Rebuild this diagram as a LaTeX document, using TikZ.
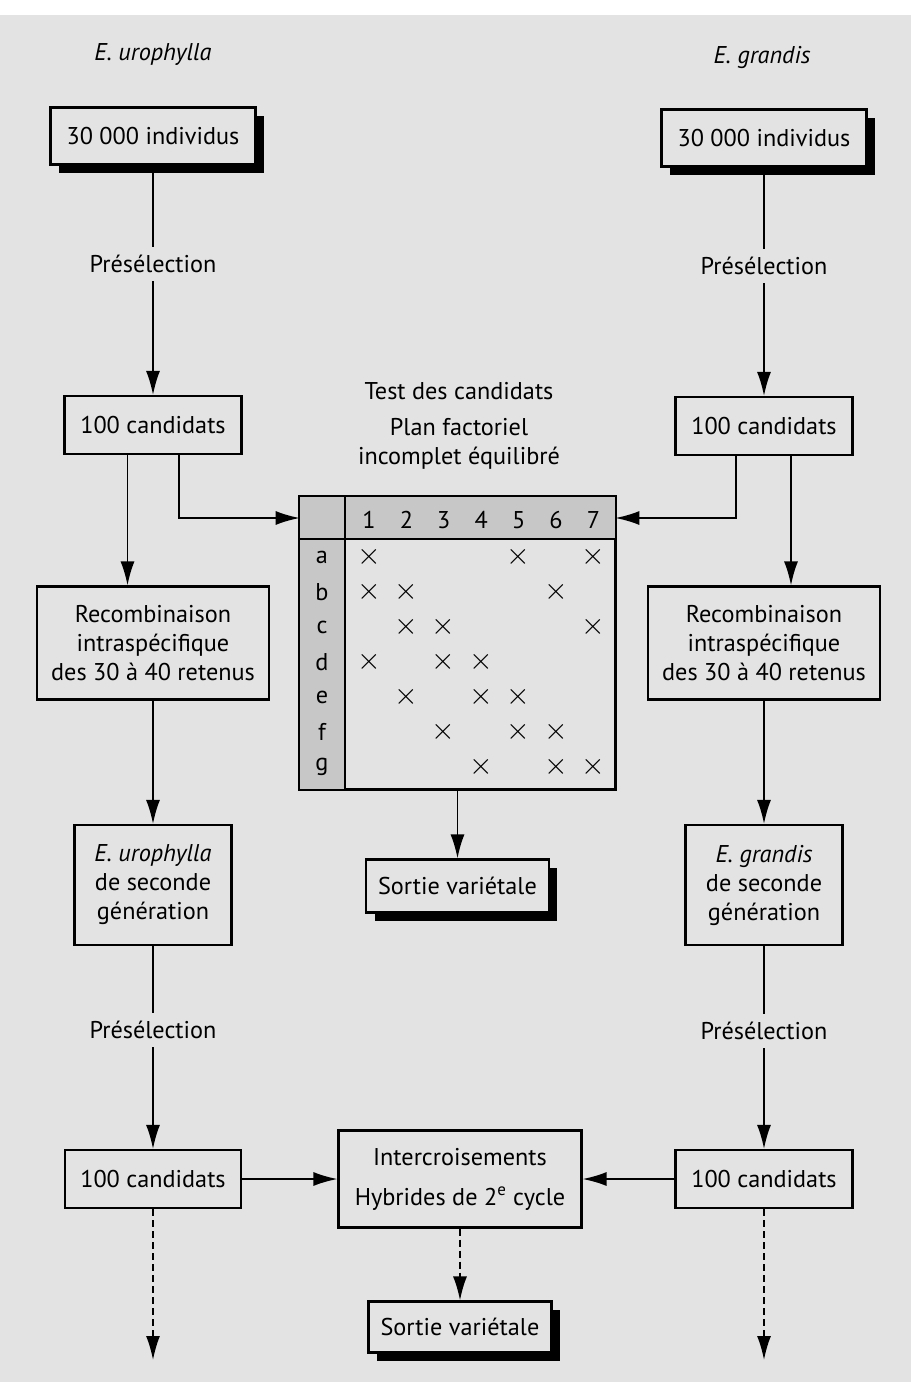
\documentclass[tikz,border=0pt]{standalone}
\usepackage{fontspec}
\setmainfont{PT Sans}
\usetikzlibrary{arrows.meta, shadows}
\definecolor{bg}{gray}{0.89}
\definecolor{shade}{gray}{0.78}
\tikzstyle{box} = [
	rectangle,
	minimum width=3.54cm,
	minimum height=1.16cm,
	text centered,
	align=center,
	draw=black,
	line width=1.2pt,
	fill=bg
]
\tikzstyle{shadowbox} = [
	box,
	drop shadow={shadow xshift=0.17cm, shadow yshift=-0.17cm, fill=black, opacity=1}
]
\tikzstyle{sel} = [fill=bg, inner sep=0.16cm]
\tikzstyle{cell} = [inner sep=0pt]
\tikzstyle{link} = [line width=1pt]
\tikzstyle{arrow} = [line width=1pt, -{Latex[length=4.8mm, width=2.8mm]}]
\tikzstyle{dashline} = [dash pattern=on 0.14cm off 0.08cm]

\begin{document}
\begin{tikzpicture}[x=0.02cm, y=-0.02cm, font=\fontsize{13.8}{16.5}\selectfont]
	\useasboundingbox (0,0) rectangle (911,1382);
	\fill [white] (0,0) rectangle (911,1382);
	\fill [bg] (0,15) rectangle (911,1382);

	\node (uroname) at (153,55) {\itshape E. urophylla};
	\node (graname) at (762,57) {\itshape E. grandis};

	\node (uro1) [shadowbox, minimum width=4.1cm, minimum height=1.14cm] at (153,136) {30 000 individus};
	\node (gra1) [shadowbox, minimum width=4.1cm, minimum height=1.14cm] at (764,138) {30 000 individus};
	\node (pre1) [sel] at (153,264) {Présélection};
	\node (pre2) [sel] at (764,266) {Présélection};
	\node (uro2) [box] at (153,425) {100 candidats};
	\node (gra2) [box] at (764,426) {100 candidats};
	\node (uro3) [box, minimum width=4.64cm, minimum height=2.26cm] at (153,643) {Recombinaison\\intraspécifique\\des 30 à 40 retenus};
	\node (gra3) [box, minimum width=4.64cm, minimum height=2.26cm] at (764,643) {Recombinaison\\intraspécifique\\des 30 à 40 retenus};
	\node (uro4) [box, minimum width=3.14cm, minimum height=2.4cm] at (153,885) {\textit{E. urophylla}\\de seconde\\génération};
	\node (gra4) [box, minimum width=3.14cm, minimum height=2.4cm] at (764,885) {\textit{E. grandis}\\de seconde\\génération};
	\node (pre3) [sel] at (153,1030) {Présélection};
	\node (pre4) [sel] at (764,1031) {Présélection};
	\node (uro5) [box, minimum width=3.52cm] at (153,1179) {100 candidats};
	\node (gra5) [box, minimum width=3.54cm] at (764,1179) {100 candidats};
	\coordinate (uroend) at (153,1360);
	\coordinate (graend) at (764,1360);

	\node (plantitle) [align=center] at (459,426) {Test des candidats\\[0.14cm]Plan factoriel\\incomplet équilibré};
	\node (plan) [box, minimum width=6.3cm, minimum height=5.84cm] at (457.5,643) {};
	\node (thead) [rectangle, fill=shade, inner sep=0pt, minimum width=6.3cm, minimum height=0.84cm] at (457.5,518) {};
	\node (tcol) [rectangle, fill=shade, inner sep=0pt, minimum width=0.9cm, minimum height=5cm] at (322.5,664) {};
	\draw [line width=1.2pt] (plan.north west) rectangle (plan.south east);
	\draw [line width=1.2pt] (thead.south west) -- (thead.south east);
	\draw [line width=1.2pt] (tcol.east |- plan.north) -- (tcol.east |- plan.south);
	\foreach \i in {1,...,7}
		\node (n\i) [cell] at ({369+37.4*(\i-1)},520) {\i};
	\foreach \l [count=\k from 0] in {a,b,c,d,e,f,g}
		\node (r\l) [cell] at (322,{557+35*\k}) {\l};
	\foreach \k/\list in {0/{1,5,7}, 1/{1,2,6}, 2/{2,3,7}, 3/{1,3,4}, 4/{2,4,5}, 5/{3,5,6}, 6/{4,6,7}}
		\foreach \i in \list
			\node (x\k\i) [cell, font=\fontsize{16}{16}\selectfont] at ({369+37.4*(\i-1)},{557+35*\k}) {$\times$};

	\node (out1) [shadowbox, minimum width=3.66cm, minimum height=1.06cm] at (457.5,886) {Sortie variétale};
	\node (cross) [box, minimum width=4.86cm, minimum height=1.94cm] at (460,1179) {Intercroisements\\[0.22cm]Hybrides de 2\textsuperscript{e} cycle};
	\node (out2) [shadowbox, minimum width=3.66cm, minimum height=1.02cm] at (460,1327) {Sortie variétale};

	\draw [link] (uro1) -- (pre1);
	\draw [arrow] (pre1) -- (uro2);
	\draw [arrow] ([xshift=0.52cm]uro2.south) |- (thead.west);
	\draw [arrow] ([xshift=-0.51cm]uro2.south) -- ([xshift=-0.51cm]uro2.south |- uro3.north);
	\draw [arrow] (uro3) -- (uro4);
	\draw [link] (uro4) -- (pre3);
	\draw [arrow] (pre3) -- (uro5);
	\draw [arrow] (uro5) -- (cross);
	\draw [arrow, dashline] (uro5) -- (uroend);

	\draw [link] (gra1) -- (pre2);
	\draw [arrow] (pre2) -- (gra2);
	\draw [arrow] ([xshift=-0.56cm]gra2.south) |- (thead.east);
	\draw [arrow] ([xshift=0.54cm]gra2.south) -- ([xshift=0.54cm]gra2.south |- gra3.north);
	\draw [arrow] (gra3) -- (gra4);
	\draw [link] (gra4) -- (pre4);
	\draw [arrow] (pre4) -- (gra5);
	\draw [arrow] (gra5) -- (cross);
	\draw [arrow, dashline] (gra5) -- (graend);

	\draw [arrow] (plan) -- (out1);
	\draw [arrow, dashline] (cross) -- (out2);
\end{tikzpicture}
\end{document}
